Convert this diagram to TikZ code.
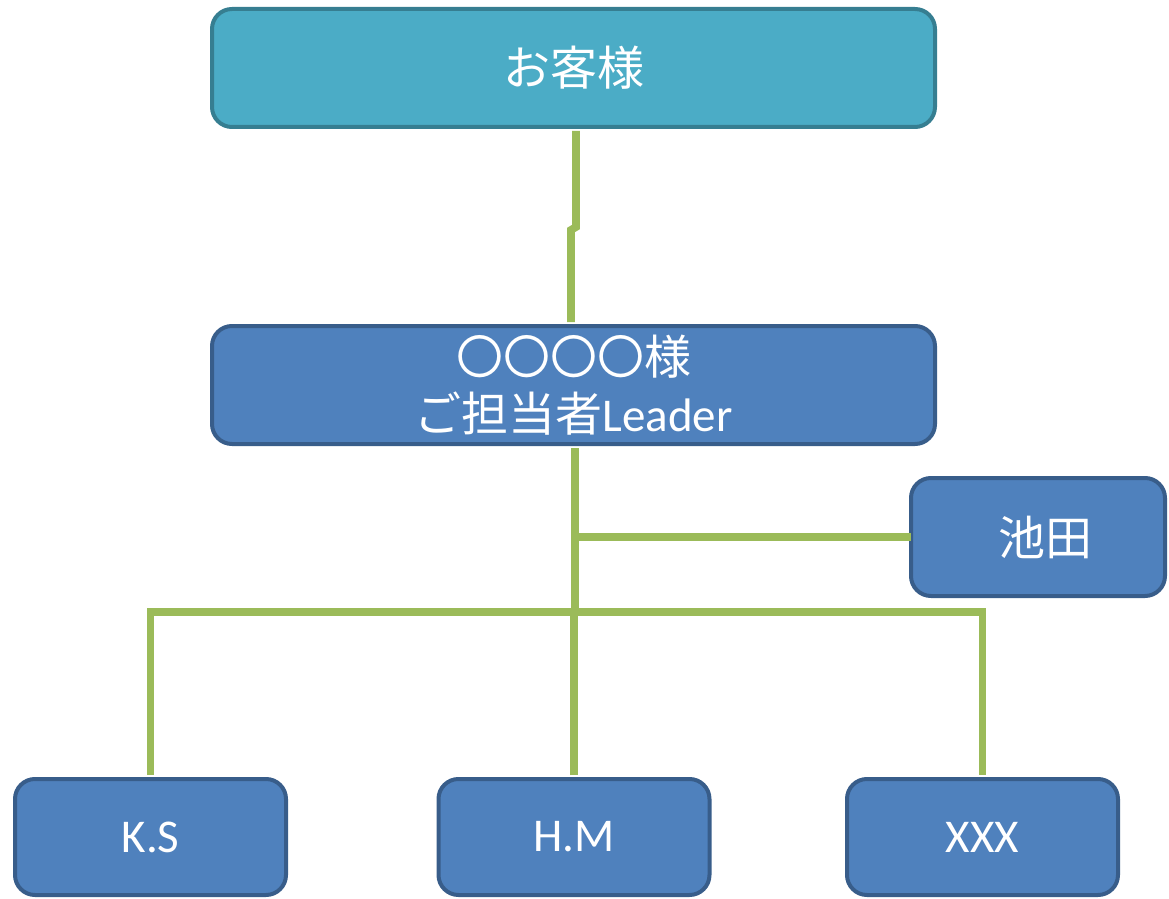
\documentclass[tikz,border=0pt]{standalone}
\usepackage{fontspec}
\setmainfont{Carlito}
\newfontfamily\jp{Noto Sans CJK JP}
\usetikzlibrary{calc}

\definecolor{custfill}{HTML}{4BACC6}
\definecolor{custline}{HTML}{367E91}
\definecolor{memfill}{HTML}{4F81BD}
\definecolor{memline}{HTML}{385D8A}
\definecolor{linkgreen}{HTML}{9BBB59}

\tikzset{
  box/.style={draw=memline,fill=memfill,line width=2pt,rounded corners=10pt,
    text=white,font=\fontsize{23.5}{28.5}\selectfont,align=center,inner sep=0pt},
  custbox/.style={box,draw=custline,fill=custfill},
  link/.style={draw=linkgreen,line width=3.9pt}
}

\begin{document}
\begin{tikzpicture}[x=0.5pt,y=-0.5pt]
\useasboundingbox (0,0) rectangle (1169,899);
% boxes
\node[custbox,minimum width=361.5pt,minimum height=59pt] (cust) at (573.5,68) {\jp お客様};
\node[box,minimum width=361.5pt,minimum height=59pt] (lead) at (573.5,385) {{\jp 〇〇〇〇様}\\{\jp ご担当者}Leader};
\node[box,minimum width=127pt,minimum height=59pt] (ikeda) at (1038,537) {\hspace{7pt}\jp 池田};
\node[box,minimum width=135.5pt,minimum height=58pt] (ks) at (150.5,837) {K.S};
\node[box,minimum width=135.5pt,minimum height=58pt] (hm) at (574,837) {H.M};
\node[box,minimum width=135.5pt,minimum height=58pt] (xxx) at (982.5,837) {XXX};
% links
\draw[link] ([xshift=1.25pt,yshift=-1pt]cust.south) -- ++(0,-48pt) -- ++(-2.5pt,-1.5pt) -- ([xshift=-1.25pt,yshift=1pt]lead.north);
\coordinate (bus) at (575,612);
\draw[link] ([xshift=0.75pt,yshift=-1pt]lead.south) -- (bus);
\draw[link] (bus |- ikeda.west) -- ([xshift=1pt]ikeda.west);
\draw[link] ([yshift=1pt]ks.north) |- (bus) -| ([yshift=1pt]xxx.north);
\draw[link] ([yshift=1pt]hm.north) -- (hm.north |- bus);
\end{tikzpicture}
\end{document}
